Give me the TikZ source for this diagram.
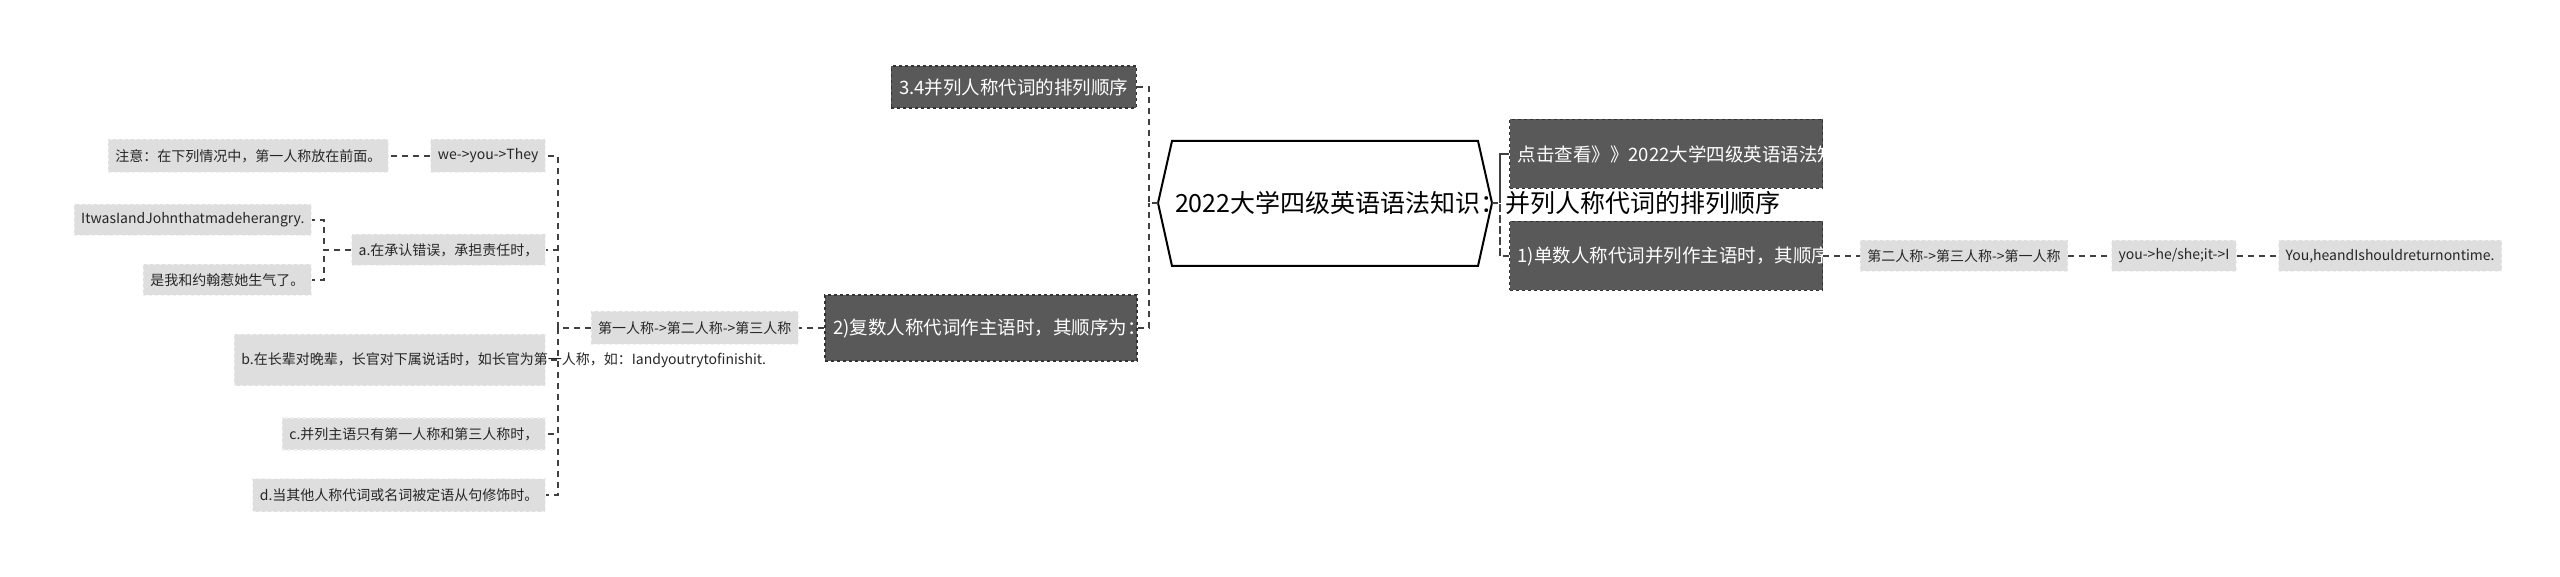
\documentclass[tikz,border=0pt]{standalone}
\usepackage{fontspec}
\setmainfont{Noto Sans CJK SC}
\begin{document}
\begin{tikzpicture}[x=1pt,y=1pt,
 lite/.style={fill=black!13,draw=black!6,dashed,line width=1.2pt,inner xsep=7pt,inner ysep=4pt,font=\fontsize{14}{19}\selectfont,align=left,text=black!85},
 dark/.style={fill=black!65,draw=black!80,dashed,line width=1.2pt,inner xsep=8pt,inner ysep=5pt,font=\fontsize{18.5}{27}\selectfont,align=left,text=white},
 conn/.style={draw=black!75,dashed,line width=1.3pt,dash pattern=on 6pt off 5pt}]
\useasboundingbox (0,0) rectangle (2560,-577);
% center
\draw[line width=2pt,fill=white] (1172,-141) -- (1478,-141) -- (1492,-203) -- (1478,-266) -- (1172,-266) -- (1158,-203) -- cycle;
\node[font=\fontsize{25}{36}\selectfont,align=center,text width=300] (c) at (1325,-203) {2022大学四级英语语法知识：并列人称代词的排列顺序};
\coordinate (cw) at (1158,-203); \coordinate (ce) at (1492,-203);
% right side
\node[dark,text width=297,minimum height=69] (r1) at (1666,-154) {点击查看》》2022大学四级英语语法知识汇总整理};
\node[dark,text width=297,minimum height=69] (r2) at (1666,-256) {1)单数人称代词并列作主语时，其顺序为：};
\node[lite,minimum height=31] (s1) at (1964,-256) {第二人称->第三人称->第一人称};
\node[lite,minimum height=31] (s2) at (2174,-256) {you->he/she;it->I};
\node[lite,minimum height=31] (s3) at (2390,-256) {You,heandIshouldreturnontime.};
% left side
\node[dark,text width=296,minimum height=66] (l2) at (981,-328) {2)复数人称代词作主语时，其顺序为：};
\node[dark,minimum height=42,anchor=east] (l1) at (1137,-87) {3.4并列人称代词的排列顺序};
\node[lite,minimum height=33,anchor=east] (p) at (799,-328) {第一人称->第二人称->第三人称};
\node[lite,minimum height=33,anchor=east] (we) at (546,-156) {we->you->They};
\node[lite,minimum height=33,anchor=east] (zy) at (389,-156) {注意：在下列情况中，第一人称放在前面。};
\node[lite,minimum height=31,anchor=east] (a) at (546,-250) {a.在承认错误，承担责任时，};
\node[lite,minimum height=31,anchor=east] (a1) at (312,-220) {ItwasIandJohnthatmadeherangry.};
\node[lite,minimum height=31,anchor=east] (a2) at (312,-280) {是我和约翰惹她生气了。};
\node[lite,text width=297,minimum height=51,anchor=east] (b) at (546,-360) {b.在长辈对晚辈，长官对下属说话时，如长官为第一人称，如：Iandyoutrytofinishit.};
\node[lite,minimum height=32,anchor=east] (cc) at (546,-434) {c.并列主语只有第一人称和第三人称时，};
\node[lite,minimum height=33,anchor=east] (d) at (546,-495) {d.当其他人称代词或名词被定语从句修饰时。};
% connectors
\foreach \t in {r1,r2} \draw[conn] (ce) -| (1500,0 |- ce) |- (\t.west);
\draw[conn] (ce) -- (1500,-203);
\draw[conn] (r1.west) -| (1500,-203);
\draw[conn] (r2.west) -| (1500,-203);
\draw[conn] (r2.east) -- (s1.west);
\draw[conn] (s1.east) -- (s2.west);
\draw[conn] (s2.east) -- (s3.west);
\draw[conn] (cw) -- (1149,-203);
\draw[conn] (l1.east) -| (1149,-203);
\draw[conn] (l2.east) -| (1149,-203);
\draw[conn] (l2.west) -- (p.east);
\foreach \t in {we,a,b,cc,d} \draw[conn] (p.west) -| (558,0 |- \t.east) -- (\t.east);
\draw[conn] (we.west) -- (zy.east);
\foreach \t in {a1,a2} \draw[conn] (a.west) -| (324,0 |- \t.east) -- (\t.east);
\end{tikzpicture}
\end{document}
